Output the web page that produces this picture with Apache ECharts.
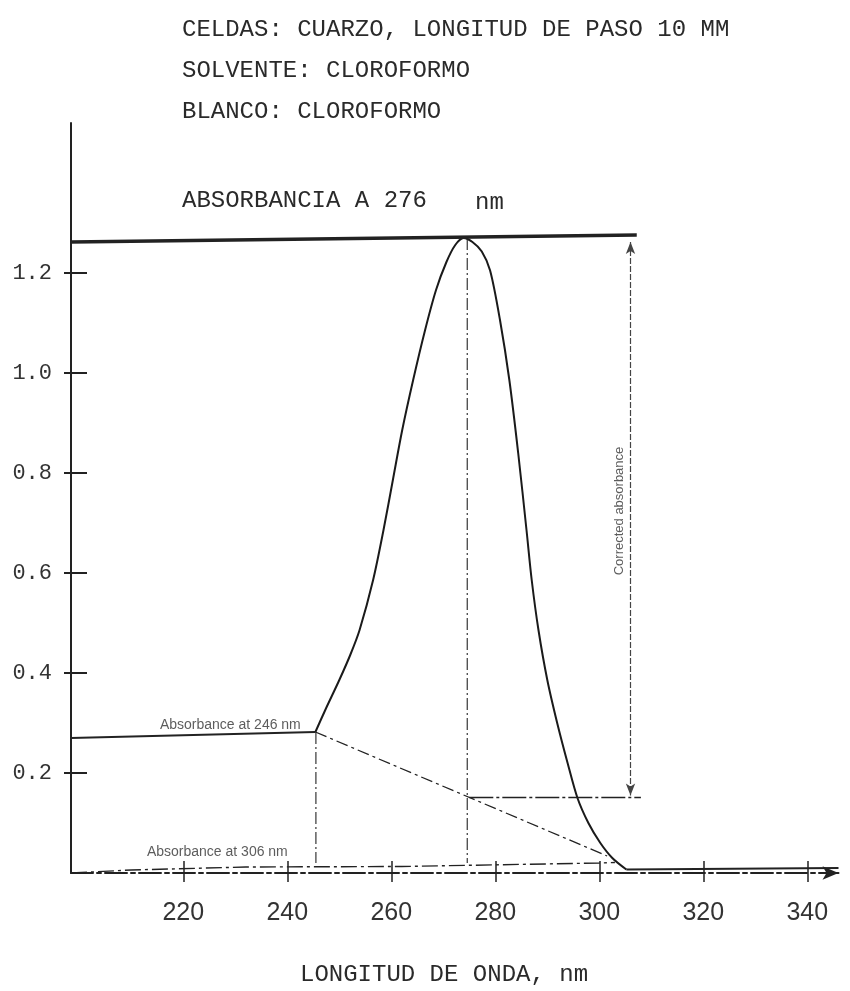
<!DOCTYPE html>
<html>
<head>
<meta charset="utf-8">
<title>Absorbancia a 276 nm</title>
<script src="https://cdn.jsdelivr.net/npm/echarts@6/dist/echarts.min.js"></script>
<style>
  html, body { margin: 0; padding: 0; background: #fff; }
  #chart { width: 850px; height: 991px; }
</style>
</head>
<body>
<div id="chart"></div>
<script>
// tick labels
var xTicks = [220, 240, 260, 280, 300, 320, 340];
var yTicks = [0.2, 0.4, 0.6, 0.8, 1.0, 1.2];

// espectro (nm, absorbancia)
var spectrumNm  = [245.4, 247.3, 250.0, 252.1, 253.9, 256.5, 258.5, 260.3, 262.1, 264.2, 266.5, 268.6, 270.6,
                   272.3, 273.9, 275.6, 277.4, 279.0, 280.9, 282.7, 284.4, 286.0, 287.0, 288.3, 290.0, 291.9,
                   293.9, 295.8, 297.9, 300.2, 302.5, 305.2];
var spectrumAbs = [0.282, 0.326, 0.386, 0.436, 0.486, 0.586, 0.686, 0.786, 0.886, 0.986, 1.086, 1.166, 1.222,
                   1.256, 1.270, 1.262, 1.243, 1.205, 1.106, 0.986, 0.840, 0.686, 0.586, 0.486, 0.386, 0.300,
                   0.220, 0.150, 0.100, 0.060, 0.030, 0.007];

// lineas auxiliares
var level246   = [[198.4, 0.270], [245.4, 0.282]];
var tail       = [[305.2, 0.007], [346.0, 0.010]];
var peakLevel  = [[198.4, 1.262], [307.2, 1.276]];
var base306    = [[198.4, 0.000], [210.0, 0.006], [232.0, 0.012], [262.0, 0.013], [300.0, 0.020], [303.0, 0.021]];
var baseline   = [[245.4, 0.282], [301.5, 0.034]];
var drop246    = [[245.5, 0.282], [245.5, 0.020]];
var drop276    = [[274.6, 1.270], [274.6, 0.020]];
var corrLevel  = [[275.0, 0.151], [308.0, 0.151]];
var corrArrow  = [[306.0, 1.262], [306.0, 0.155]];

var mono = 'Liberation Mono';
var ink = '#222';

var chart = echarts.init(document.getElementById('chart'));

function pairs(xs, ys) {
    return xs.map(function (x, i) { return [x, ys[i]]; });
}

function plain(data, width, type) {
    return {
        type: 'line',
        data: data,
        symbol: 'none',
        silent: true,
        lineStyle: { color: ink, width: width, type: type || 'solid' }
    };
}

var titleStyle = { fontFamily: mono, fontSize: 24, fontWeight: 'normal', color: '#2a2a2a' };

chart.setOption({
    backgroundColor: '#fff',
    animation: false,
    title: [
        { text: 'CELDAS: CUARZO, LONGITUD DE PASO 10 MM', left: 182, top: 18, padding: 0, textStyle: titleStyle },
        { text: 'SOLVENTE: CLOROFORMO', left: 182, top: 59, padding: 0, textStyle: titleStyle },
        { text: 'BLANCO: CLOROFORMO', left: 182, top: 100, padding: 0, textStyle: titleStyle },
        { text: 'ABSORBANCIA A 276', left: 182, top: 189, padding: 0, textStyle: titleStyle },
        { text: 'nm', left: 475, top: 191, padding: 0, textStyle: titleStyle },
        { text: 'LONGITUD DE ONDA, nm', left: 300, top: 963, padding: 0, textStyle: titleStyle }
    ],
    grid: { left: 71, right: 11.5, top: 123, bottom: 118 },
    xAxis: [
        {
            type: 'value',
            min: 198.4,
            max: 346,
            axisLine: {
                show: true, onZero: false,
                symbol: ['none', 'arrow'], symbolSize: [10, 16],
                lineStyle: { color: ink, width: 2, type: [22, 4, 4, 4] }
            },
            axisTick: { show: true, inside: false, length: 9, customValues: xTicks, lineStyle: { color: ink, width: 1.5 } },
            axisLabel: {
                customValues: xTicks, margin: 28,
                fontFamily: 'Liberation Sans', fontSize: 25, color: '#333'
            },
            splitLine: { show: false }
        },
        {
            type: 'value',
            min: 198.4,
            max: 346,
            position: 'bottom',
            axisLine: { show: false },
            axisTick: { show: true, inside: true, length: 12, customValues: xTicks, lineStyle: { color: ink, width: 1.5 } },
            axisLabel: { show: false },
            splitLine: { show: false }
        }
    ],
    yAxis: [
        {
            type: 'value',
            min: 0,
            max: 1.5,
            axisLine: { show: true, onZero: false, lineStyle: { color: ink, width: 2 } },
            axisTick: { show: true, inside: true, length: 16, customValues: yTicks, lineStyle: { color: ink, width: 2 } },
            axisLabel: {
                customValues: yTicks, margin: 19,
                formatter: function (v) { return v.toFixed(1); },
                fontFamily: mono, fontSize: 22, color: '#333'
            },
            splitLine: { show: false }
        },
        {
            type: 'value',
            min: 0,
            max: 1.5,
            position: 'left',
            axisLine: { show: false },
            axisTick: { show: true, inside: false, length: 7, customValues: yTicks, lineStyle: { color: ink, width: 2 } },
            axisLabel: { show: false },
            splitLine: { show: false }
        }
    ],
    series: [
        {
            name: 'espectro',
            type: 'line',
            data: pairs(spectrumNm, spectrumAbs),
            symbol: 'none',
            smooth: 0.3,
            silent: true,
            lineStyle: { color: '#1a1a1a', width: 2 }
        },
        plain(level246, 2),
        plain(tail, 2),
        plain(peakLevel, 3.5),
        plain(base306, 1.4, [16, 4, 3, 4]),
        plain(baseline, 1.3, [12, 4, 3, 4]),
        plain(drop246, 1.1, [12, 3, 2, 3]),
        plain(drop276, 1.1, [12, 3, 2, 3]),
        Object.assign(plain(corrLevel, 1.5, [24, 3, 3, 3]), {
            markLine: {
                silent: true,
                symbol: ['arrow', 'arrow'],
                symbolSize: [7, 12],
                label: { show: false },
                lineStyle: { color: '#444', width: 1.2, type: [6, 2] },
                data: [[{ coord: corrArrow[0] }, { coord: corrArrow[1] }]]
            }
        }),
        {
            name: 'notas',
            type: 'scatter',
            symbolSize: 0,
            silent: true,
            label: {
                show: true,
                fontFamily: 'Liberation Sans',
                fontSize: 14,
                color: '#333',
                formatter: function (p) { return p.data.text; }
            },
            data: [
                { value: [215.5, 0.296], text: 'Absorbance at 246 nm',
                  label: { position: [0, 0], align: 'left', verticalAlign: 'middle' } },
                { value: [213.0, 0.042], text: 'Absorbance at 306 nm',
                  label: { position: [0, 0], align: 'left', verticalAlign: 'middle' } },
                { value: [303.8, 0.724], text: 'Corrected absorbance',
                  label: { position: 'inside', rotate: 90, fontSize: 13, align: 'center', verticalAlign: 'middle' } }
            ]
        }
    ]
});
</script>
</body>
</html>
